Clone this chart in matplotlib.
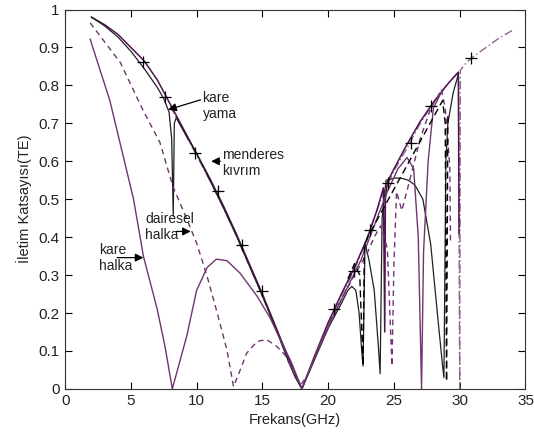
import matplotlib
matplotlib.use("Agg")
import matplotlib.pyplot as plt

plt.rcParams['font.family'] = ['Liberation Sans', 'DejaVu Sans']

# --- data ---
# black solid: "kare yama"
yama_x = [2, 3, 4, 5, 6, 7, 7.5, 7.9, 8.1, 8.22, 8.3, 8.45, 9, 10, 11, 12, 13, 14, 15, 16, 17, 17.5, 18,
          18.5, 19, 20, 21, 21.5, 21.8, 22.1, 22.35, 22.55, 22.65, 22.8, 23.1, 23.5, 23.8, 23.95, 24.1,
          24.4, 25.1, 25.6, 26.1, 26.6, 27.2, 27.8, 28.3, 28.7, 28.8, 28.95, 29.1, 29.5, 29.9]
yama_y = [0.98, 0.957, 0.928, 0.89, 0.845, 0.795, 0.765, 0.73, 0.66, 0.455, 0.70, 0.715, 0.68, 0.62, 0.55,
          0.48, 0.405, 0.325, 0.245, 0.16, 0.07, 0.03, 0.0, 0.04, 0.08, 0.16, 0.225, 0.26, 0.27, 0.26,
          0.2, 0.1, 0.06, 0.385, 0.34, 0.26, 0.12, 0.04, 0.45, 0.55, 0.556, 0.555, 0.55, 0.537, 0.5,
          0.38, 0.2, 0.06, 0.03, 0.6, 0.7, 0.78, 0.83]

# dark purple solid: "menderes kıvrım"
mend_x = [2, 3, 4, 5, 6, 7, 8, 9, 10, 11, 12, 13, 14, 15, 16, 17, 17.5, 18, 18.5, 19, 20, 21, 22, 23,
          23.7, 24.2, 24.3, 24.35, 24.5, 25, 26, 27, 28, 29, 29.5, 29.9, 29.95]
mend_y = [0.98, 0.96, 0.935, 0.9, 0.865, 0.815, 0.75, 0.685, 0.62, 0.555, 0.485, 0.41, 0.33, 0.25,
          0.165, 0.08, 0.04, 0.0, 0.045, 0.09, 0.175, 0.25, 0.32, 0.40, 0.47, 0.53, 0.15, 0.5, 0.545,
          0.58, 0.645, 0.705, 0.755, 0.80, 0.82, 0.835, 0.41]

# light purple dash-dot: reference slab
ref_x = [8, 9, 10, 11, 12, 13, 14, 15, 16, 17, 18, 19, 20, 21, 22, 23, 24, 25, 26, 27, 28, 29, 29.9,
         30.0, 30.05, 30.5, 31, 32, 33, 34]
ref_y = [0.745, 0.68, 0.615, 0.55, 0.48, 0.405, 0.325, 0.245, 0.16, 0.075, 0.0, 0.085, 0.17, 0.245,
         0.315, 0.40, 0.50, 0.575, 0.635, 0.70, 0.755, 0.80, 0.835, 0.0, 0.84, 0.86, 0.875, 0.90,
         0.925, 0.945]

# purple solid: "kare halka"
khal_x = [1.9, 3.4, 5.2, 5.95, 7.0, 7.6, 8.15, 8.7, 9.25, 10.0, 10.8, 11.5, 12.3, 13.3, 14.6, 15.6,
          16.5, 17.2, 18.0, 18.7, 19.5, 20.5, 21.5, 22.5, 23.5, 24.5, 25.3, 26.0, 26.5, 26.85, 27.1,
          27.25, 27.6, 28.0, 28.5]
khal_y = [0.922, 0.76, 0.5, 0.35, 0.21, 0.11, 0.0, 0.07, 0.14, 0.26, 0.32, 0.342, 0.338, 0.305,
          0.244, 0.186, 0.12, 0.07, 0.0, 0.06, 0.13, 0.20, 0.27, 0.34, 0.43, 0.52, 0.58, 0.61, 0.58,
          0.40, 0.0, 0.36, 0.6, 0.74, 0.775]

# purple dashed: "dairesel halka"
dhal_x = [1.9, 4.2, 5.9, 7.2, 8.2, 9.1, 10.0, 10.8, 11.5, 12.3, 12.8, 13.2, 13.8, 14.6, 15.3, 16.0,
          16.7, 17.3, 17.9, 18.5, 19.2, 20, 21, 22, 22.5, 23, 23.5, 24, 24.5, 24.85, 25.0, 25.2, 25.6,
          26.2, 27, 27.8, 28.4, 28.6, 28.9, 29.25, 29.3]
dhal_y = [0.965, 0.86, 0.736, 0.65, 0.533, 0.46, 0.384, 0.296, 0.208, 0.103, 0.006, 0.04, 0.094,
          0.125, 0.13, 0.115, 0.09, 0.05, 0.01, 0.04, 0.10, 0.16, 0.235, 0.30, 0.33, 0.36, 0.40, 0.43,
          0.37, 0.06, 0.33, 0.52, 0.47, 0.55, 0.66, 0.74, 0.775, 0.79, 0.74, 0.586, 0.39]

# black dashed: extra resonances
bdash_x = [21.5, 22.0, 22.4, 22.65, 22.75, 23.0, 28.7, 28.9, 29.0, 29.1]
bdash_y = [0.29, 0.33, 0.30, 0.06, 0.37, 0.40, 0.76, 0.7, 0.02, 0.72]

# measured points (+)
plus_x = [5.93, 7.6, 9.88, 11.63, 13.43, 14.95, 20.47, 21.96, 23.18, 24.52, 26.27, 27.8, 30.83]
plus_y = [0.863, 0.77, 0.623, 0.522, 0.38, 0.257, 0.21, 0.311, 0.418, 0.544, 0.648, 0.747, 0.873]

x_ticks = [0, 5, 10, 15, 20, 25, 30, 35]
y_ticks = [0, 0.1, 0.2, 0.3, 0.4, 0.5, 0.6, 0.7, 0.8, 0.9, 1]
y_tick_labels = ['0', '0.1', '0.2', '0.3', '0.4', '0.5', '0.6', '0.7', '0.8', '0.9', '1']

dark = '#4e1450'
mid = '#6e3570'
light = '#8e6490'

fig = plt.figure(figsize=(5.34, 4.34), dpi=100)
ax = fig.add_axes([0.122, 0.104, 0.862, 0.874])

ax.plot(ref_x, ref_y, color=light, lw=1.0, ls=(0, (6, 2, 1, 2)))
ax.plot(mend_x, mend_y, color=dark, lw=1.1, ls='-')
ax.plot(yama_x, yama_y, color='#202020', lw=0.9, ls='-')
ax.plot(khal_x, khal_y, color=mid, lw=1.0, ls='-')
ax.plot(dhal_x, dhal_y, color=mid, lw=1.0, ls=(0, (4, 3)))
ax.plot(bdash_x, bdash_y, color='black', lw=1.0, ls=(0, (5, 3)))
ax.plot(plus_x, plus_y, ls='none', marker='+', ms=9, mew=0.9, color='black')

ax.set_xlim(0, 35)
ax.set_ylim(0, 1)
ax.set_xticks(x_ticks)
ax.set_yticks(y_ticks)
ax.set_yticklabels(y_tick_labels)
ax.tick_params(direction='in', length=5, width=0.8, top=True, right=True, labelsize=11, pad=4,
               labelcolor='#222222')
for s in ax.spines.values():
    s.set_linewidth(0.8)
    s.set_color('#333333')

ax.set_xlabel('Frekans(GHz)', fontsize=10.5, labelpad=3, color='#222222')
ax.set_ylabel('İletim Katsayısı(TE)', fontsize=10.5, labelpad=5, color='#222222')

arrow = dict(arrowstyle='-|>', color='black', lw=0.9, mutation_scale=12, shrinkA=0, shrinkB=0)
ax.annotate('', xy=(7.83, 0.736), xytext=(10.3, 0.762), arrowprops=arrow)
ax.text(10.45, 0.745, 'kare\nyama', fontsize=10, va='center', ha='left', linespacing=1.2, color='#222222')
ax.annotate('', xy=(11.1, 0.6), xytext=(11.8, 0.6), arrowprops=arrow)
ax.text(11.95, 0.596, 'menderes\nkıvrım', fontsize=10, va='center', ha='left', linespacing=1.2, color='#222222')
ax.annotate('', xy=(9.55, 0.415), xytext=(8.45, 0.415), arrowprops=arrow)
ax.text(6.1, 0.426, 'dairesel\nhalka', fontsize=10, va='center', ha='left', linespacing=1.2, color='#222222')
ax.annotate('', xy=(5.95, 0.346), xytext=(3.95, 0.346), arrowprops=arrow)
ax.text(2.55, 0.346, 'kare\nhalka', fontsize=10, va='center', ha='left', linespacing=1.2, color='#222222')

fig.savefig('out.png', dpi=100)
